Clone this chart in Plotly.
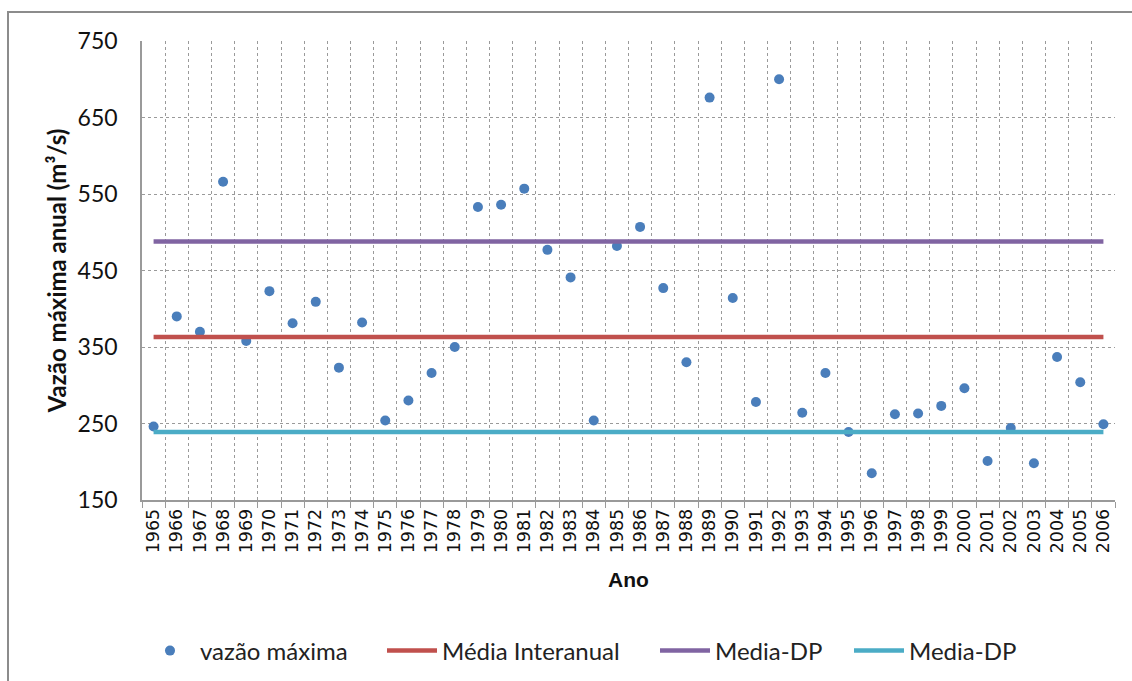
import plotly.graph_objects as go

years = [str(y) for y in range(1965, 2007)]
vazao_maxima = [246, 390, 370, 566, 358, 423, 381, 409, 323, 382,
                254, 280, 316, 350, 533, 536, 557, 477, 441, 254,
                482, 507, 427, 330, 676, 414, 278, 700, 264, 316,
                239, 185, 262, 263, 273, 296, 201, 244, 198, 337,
                304, 249]
media_interanual = 363
media_mais_dp = 488
media_menos_dp = 239

fig = go.Figure()
fig.add_trace(go.Scatter(x=years, y=vazao_maxima, mode="markers", name="vazão máxima",
                         marker=dict(color="#4A7EBB", size=10), legend="legend"))
fig.add_trace(go.Scatter(x=years, y=[media_interanual] * len(years), mode="lines",
                         name="Média Interanual", line=dict(color="#C0504D", width=4.5), legend="legend2"))
fig.add_trace(go.Scatter(x=years, y=[media_mais_dp] * len(years), mode="lines",
                         name="Media-DP", line=dict(color="#8064A2", width=4.5), legend="legend3"))
fig.add_trace(go.Scatter(x=years, y=[media_menos_dp] * len(years), mode="lines",
                         name="Media-DP", line=dict(color="#4BACC6", width=4.5), legend="legend4"))

grid = "#9a9a9a"
leg_font = dict(family="Lato, Open Sans, sans-serif", size=24, color="#222")
leg_y = -0.329

def leg(px):
    return dict(x=(px - 142) / 973, y=leg_y, xanchor="left", yanchor="middle", orientation="h",
                font=leg_font, bgcolor="rgba(0,0,0,0)", itemwidth=50)

fig.update_layout(
    width=1132, height=681,
    margin=dict(l=142, r=17, t=41, b=181, autoexpand=False),
    paper_bgcolor="white", plot_bgcolor="white",
    showlegend=True,
    legend=leg(140),
    legend2=leg(382),
    legend3=leg(655),
    legend4=leg(849),
    xaxis=dict(
        type="category", range=[-0.5, 41.5], automargin=False,
        tickson="boundaries", ticks="outside", ticklen=6, tickcolor=grid,
        showgrid=True, gridcolor=grid, griddash="dot", gridwidth=1,
        showline=True, linecolor=grid, linewidth=1.5, mirror=False,
        tickangle=-90,
        tickfont=dict(family="DejaVu Sans", size=17.5, color="#111"),
        title=dict(text="<b>Ano</b>", font=dict(family="Liberation Sans, Arial, sans-serif", size=21, color="#111"),
                   standoff=20),
    ),
    yaxis=dict(
        range=[150, 750], tickvals=[150, 250, 350, 450, 550, 650, 750], automargin=False,
        showgrid=True, gridcolor=grid, griddash="dot", gridwidth=1,
        showline=True, linecolor=grid, linewidth=1.5, zeroline=False,
        ticks="", ticklabelstandoff=18,
        tickfont=dict(family="Lato, Open Sans, sans-serif", size=23, color="#111"),
        title=dict(text="<b>Vazão máxima anual (m³/s)</b>",
                   font=dict(family="Lato, Open Sans, sans-serif", size=24, color="#111"),
                   standoff=4),
    ),
    shapes=[dict(type="rect", xref="paper", yref="paper",
                 x0=(8 - 142) / 973, x1=(1145 - 142) / 973,
                 y0=(500 - 700) / 459, y1=(500 - 12) / 459,
                 line=dict(color="#8c8c8c", width=2), fillcolor="rgba(0,0,0,0)", layer="below")],
)

fig.write_html("out.html", config={"displayModeBar": False},
               post_script="document.body.style.margin='0';document.body.style.overflow='hidden';")
